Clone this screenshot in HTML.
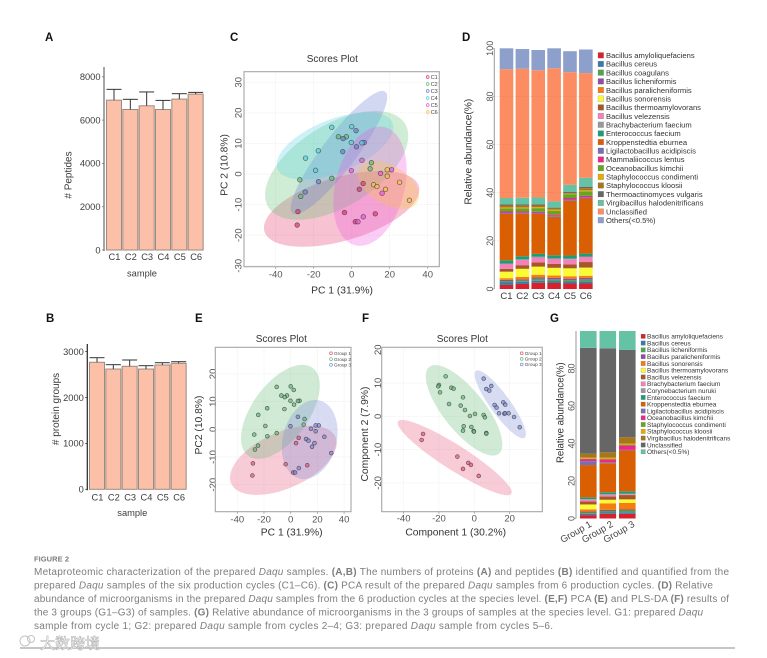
<!DOCTYPE html>
<html lang="en">
<head>
<meta charset="utf-8">
<title>Figure 2 Metaproteomic characterization</title>
<style>
html,body{margin:0;padding:0;background:#fff;}
#figure{display:block;width:767px;height:658px;font-family:"Liberation Sans","Noto Sans CJK SC",sans-serif;}
</style>
</head>
<body>
<svg id="figure" xmlns="http://www.w3.org/2000/svg" width="767" height="658" viewBox="0 0 767 658">
  <rect width="767" height="658" fill="#ffffff"/>
  <g id="panel-a"></g>
  <g id="panel-b"></g>
  <g id="panel-c"></g>
  <g id="panel-d"></g>
  <g id="panel-e"></g>
  <g id="panel-f"></g>
  <g id="panel-g"></g>

  <g font-size="11.5" font-weight="bold" fill="#111">
    <text x="45" y="41">A</text>
    <text x="46" y="322">B</text>
    <text x="230" y="41">C</text>
    <text x="462" y="41">D</text>
    <text x="195" y="322">E</text>
    <text x="362" y="322">F</text>
    <text x="550" y="322">G</text>
  </g>

  <g fill="#7d7d7d" font-size="10">
    <text x="34" y="561.5" font-size="7.5" font-weight="bold" textLength="35">FIGURE 2</text>
    <text x="34" y="575" textLength="695" lengthAdjust="spacing">Metaproteomic characterization of the prepared <tspan font-style="italic">Daqu</tspan> samples. <tspan font-weight="bold">(A,B)</tspan> The numbers of proteins <tspan font-weight="bold">(A)</tspan> and peptides <tspan font-weight="bold">(B)</tspan> identified and quantified from the</text>
    <text x="34" y="588.5" textLength="679" lengthAdjust="spacing">prepared <tspan font-style="italic">Daqu</tspan> samples of the six production cycles (C1–C6). <tspan font-weight="bold">(C)</tspan> PCA result of the prepared <tspan font-style="italic">Daqu</tspan> samples from 6 production cycles. <tspan font-weight="bold">(D)</tspan> Relative</text>
    <text x="34" y="602" textLength="695" lengthAdjust="spacing">abundance of microorganisms in the prepared <tspan font-style="italic">Daqu</tspan> samples from the 6 production cycles at the species level. <tspan font-weight="bold">(E,F)</tspan> PCA <tspan font-weight="bold">(E)</tspan> and PLS-DA <tspan font-weight="bold">(F)</tspan> results of</text>
    <text x="34" y="615.5" textLength="669" lengthAdjust="spacing">the 3 groups (G1–G3) of samples. <tspan font-weight="bold">(G)</tspan> Relative abundance of microorganisms in the 3 groups of samples at the species level. G1: prepared <tspan font-style="italic">Daqu</tspan></text>
    <text x="34" y="629" textLength="519" lengthAdjust="spacing">sample from cycle 1; G2: prepared <tspan font-style="italic">Daqu</tspan> sample from cycles 2–4; G3: prepared <tspan font-style="italic">Daqu</tspan> sample from cycles 5–6.</text>
  </g>

  <line x1="20" y1="648" x2="735" y2="648" stroke="#b4b4b4" stroke-width="1.4"/>
  <g>
    <circle cx="25" cy="641" r="5" fill="none" stroke="#c4c4c4" stroke-width="1"/>
    <circle cx="31" cy="639" r="3.5" fill="none" stroke="#c4c4c4" stroke-width="1"/>
    <text x="40" y="648.5" font-size="15" fill="#ffffff" stroke="#ababab" stroke-width="0.5" font-family="'Liberation Sans','Noto Sans CJK SC',sans-serif">大数跨境</text>
  </g>
</svg>

<script>
// ---------- Bar chart data (A, B) ----------
const cycleLabels = ['C1', 'C2', 'C3', 'C4', 'C5', 'C6'];
const peptideMeans = [6920, 6490, 6660, 6490, 6970, 7200];
const peptideErrorTops = [7420, 6960, 7300, 6910, 7220, 7280];
const peptideTicks = [0, 2000, 4000, 6000, 8000];
const proteinMeans = [2767, 2620, 2680, 2620, 2708, 2745];
const proteinErrorTops = [2867, 2715, 2817, 2693, 2758, 2780];
const proteinTicks = [0, 1000, 2000, 3000];

// ---------- Score data, PCA (C, E) ----------
const pcaC1 = [[-28.3,-12.3],[-28.7,-16.7],[-3.8,-12.6],[1.9,-15.6],[12.4,-13],[6,-3.1],[4,-5]];
const pcaC2 = [[-27.3,-1.9],[-26.8,-7.3],[-10.5,-1.4],[9.7,1.7],[10.4,3.7],[-7,12.2],[-2.8,12.2]];
const pcaC3 = [[-24.5,-5.9],[-17.5,-2.5],[-4.7,7.3],[2.5,8.9],[-4.5,11.6],[2.3,14.2],[6.6,10.3]];
const pcaC4 = [[-10.5,15.3],[0,15.5],[-17.6,7.6],[-24.3,5.2],[-19,1.2],[-0.2,10.3],[5.4,10.2]];
const pcaC5 = [[3.3,-15.6],[6.1,-14],[16,-6.3],[21,1.4],[15.2,0.2],[5.4,4.5],[-0.2,1.1]];
const pcaC6 = [[11.5,-3.5],[13.3,-4.1],[17.8,-5],[18.7,-0.7],[18.7,1.4],[25.2,-2.7],[30.4,-8.6]];

// Ellipses in data units: centre, half-extent, correlation
const cEllipseCx = [-5.3, -7.9, -6.7, -8.8, 9.6, 19.3];
const cEllipseCy = [-11.4, 2.8, 7, 9.2, -4, -3.6];
const cEllipseXr = [40.9, 37.7, 25.4, 30.7, 19.3, 16.1];
const cEllipseYr = [12.4, 17.8, 20.2, 11, 19.5, 7.9];
const cEllipseCorr = [0.5, 0.54, 0.9, 0.55, 0.27, -0.45];
const cXTicks = [-40, -20, 0, 20, 40];
const cYTicks = [-30, -20, -10, 0, 10, 20, 30];

const groupLabels = ['Group 1', 'Group 2', 'Group 3'];
const eEllipseCx = [-5.5, -7.7, 14.2];
const eEllipseCy = [-11.2, 6.3, -3.7];
const eEllipseXr = [40, 29.5, 20.9];
const eEllipseYr = [12.5, 17, 14.3];
const eEllipseCorr = [0.5, 0.56, 0.2];
const eXTicks = [-40, -20, 0, 20, 40];
const eYTicks = [-20, -10, 0, 10, 20];

// ---------- Score data, PLS-DA (F) ----------
const plsG1 = [[-29,-5.3],[-29.8,-7.1],[-9.6,-12.1],[-3.4,-14],[-1.9,-14.6],[-6.4,-15.8],[2.5,-17.9]];
const plsG2 = [[-16.2,12],[-20,9.4],[-20.4,9],[-19.4,7.2],[-13,8.6],[-11.7,8.3],[-6.4,5.7],[-14.3,3.7],[-7.7,3.2],[-5.3,1.9],[-2.5,0.1],[0.4,0.7],[5.3,0.4],[6,-0.3],[-6,-3],[-6.4,-4.3],[-1.7,-3.2],[-0.4,-4.4],[-0.2,-4.6],[6.8,-5],[6.8,-5.2]];
const plsG3 = [[5.3,11.3],[6.8,8.2],[8.5,7.7],[9.6,9.1],[11.5,3.4],[12.6,2.6],[14,0.9],[16.4,4.2],[17.5,3.5],[17,0.8],[17.4,0.9],[19.4,0.9],[22.5,-0.2],[25.7,-3.3]];
const fEllipseCx = [-11.1, -5.8, 14.7];
const fEllipseCy = [-12.4, 1.8, 3.6];
const fEllipseXr = [32.3, 21.7, 14.5];
const fEllipseYr = [11.3, 13.6, 10.2];
const fEllipseCorr = [-0.92, -0.75, -0.88];
const fXTicks = [-40, -20, 0, 20];
const fYTicks = [-20, -10, 0, 10, 20];

// ---------- Abundance data (D) ----------
const speciesD = ['Bacillus amyloliquefaciens','Bacillus cereus','Bacillus coagulans','Bacillus licheniformis','Bacillus paralicheniformis','Bacillus sonorensis','Bacillus thermoamylovorans','Bacillus velezensis','Brachybacterium faecium','Enterococcus faecium','Kroppenstedtia eburnea','Ligilactobacillus acidipiscis','Mammaliicoccus lentus','Oceanobacillus kimchii','Staphylococcus condimenti','Staphylococcus kloosii','Thermoactinomyces vulgaris','Virgibacillus halodenitrificans','Unclassified','Others(<0.5%)'];
const abundanceC1 = [1.7,1,0.6,0.5,0.7,2.7,1.2,2,0.2,1.3,19.3,0.4,0.6,1.3,0.4,0.8,0.5,2.6,53.5,8.7];
const abundanceC2 = [2.1,0.9,0.5,0.5,1,3.4,1.5,2.2,0.2,1.3,17.7,0.4,0.5,1.3,0.4,0.7,0.5,2.8,53.6,8.2];
const abundanceC3 = [2.6,0.8,0.8,0.6,1.1,3.4,1.7,2.1,0.3,1.2,16.6,0.4,0.5,1.5,0.4,0.7,0.5,2.8,52.9,8.4];
const abundanceC4 = [2.5,0.8,0.7,0.6,1,3.2,1.6,2.1,0.2,1.3,16,0.4,0.5,1.5,0.6,0.4,0.4,2.6,55.3,8.3];
const abundanceC5 = [2.3,0.8,0.6,0.6,1,3.3,1.6,2.2,0.2,1.3,22.8,0.5,0.6,1.6,0.2,0.3,0.4,3,46.8,8.7];
const abundanceC6 = [2.3,0.9,0.8,0.6,0.9,3.4,2.3,2.1,0.2,1.2,22.9,0.5,0.6,1.9,0.4,0.9,0.6,3.7,43.5,9.8];
const abundanceTicksD = [0, 20, 40, 60, 80, 100];

// ---------- Abundance data (G) ----------
const speciesG = ['Bacillus amyloliquefaciens','Bacillus cereus','Bacillus licheniformis','Bacillus paralicheniformis','Bacillus sonorensis','Bacillus thermoamylovorans','Bacillus velezensis','Brachybacterium faecium','Corynebacterium nuruki','Enterococcus faecium','Kroppenstedtia eburnea','Ligilactobacillus acidipiscis','Oceanobacillus kimchii','Staphylococcus condimenti','Staphylococcus kloosii','Virgibacillus halodenitrificans','Unclassified','Others(<0.5%)'];
const abundanceG1 = [1.8,0.7,0.7,0.5,1.2,2.6,1.6,1,0.3,0.9,17.2,2.1,1.1,0.2,0.6,2,56.5,9];
const abundanceG2 = [2.5,0.7,0.8,0.6,3.5,1.9,1.7,0.9,0.3,1.1,15.5,0.5,1.5,0.2,0.7,2.9,55.5,9.2];
const abundanceG3 = [2.5,0.8,1,0.5,3.5,1.9,2.3,0.4,0.4,1.2,21.8,0.3,2.4,0.4,0.6,3.4,46.5,10.1];
const abundanceTicksG = [0, 20, 40, 60, 80];

// ---------- Palettes ----------
const speciesPaletteD = ['#d7222b','#3a78b0','#4ca64a','#944ca0','#f57d0f','#fbfb35','#a65628','#f581bb','#999999','#1b9e77','#d95f02','#7570b3','#e7298a','#66a61e','#e6ab02','#a6761d','#666666','#66c2a5','#fc8d62','#8da0cb'];
const speciesPaletteG = ['#d7222b','#3a78b0','#4ca64a','#944ca0','#f57d0f','#fbfb35','#a65628','#f581bb','#999999','#1b9e77','#d95f02','#7570b3','#e7298a','#66a61e','#e6ab02','#a6761d','#666666','#66c2a5'];
const cycleColors = ['#e3346a','#5fbf6f','#6b7fd0','#58cfe6','#ee55e0','#f7c23e'];
const groupColors = ['#e8557a','#66bb77','#7c8bd8'];

// ---------- Helpers ----------
const NS = 'http://www.w3.org/2000/svg';
function mk(tag, attrs, parent) {
  const n = document.createElementNS(NS, tag);
  for (const k in attrs) n.setAttribute(k, attrs[k]);
  parent.appendChild(n);
  return n;
}
function label(s, x, y, size, parent, opts) {
  const o = opts || {};
  const n = mk('text', {x: x, y: y, 'font-size': size, fill: o.fill || '#3c3c3c', 'text-anchor': o.anchor || 'middle', dy: '0.36em'}, parent);
  if (o.rotate) n.setAttribute('transform', 'rotate(' + o.rotate + ' ' + x + ' ' + y + ')');
  n.textContent = s;
  return n;
}
function linear(origin, slope) { return v => origin + v * slope; }

function drawBars(parent, cfg, cats, means, tops, ticks) {
  const sy = linear(cfg.y0, -cfg.ky);
  const cx = i => cfg.x0 + cfg.step * i;
  const axis = mk('line', {x1: cfg.axisX, x2: cfg.axisX, y1: cfg.axisTop, y2: cfg.y0 + 1, stroke: cfg.axisColor, 'stroke-width': 1.3}, parent);
  
  
  ticks.forEach(t => {
    const m = mk('line', {x1: cfg.axisX - 2, x2: cfg.axisX, y1: sy(t), y2: sy(t), stroke: cfg.axisColor, 'stroke-width': 0.8}, parent);
    
    
    const l = label(String(t), cfg.axisX - 3.5, sy(t), 9.3, parent, {anchor: 'end'});
    
    
  });
  cats.forEach((c, i) => {
    const bar = mk('rect', {x: cx(i) - cfg.w / 2, y: sy(means[i]), width: cfg.w, height: sy(0) - sy(means[i]), fill: '#fcc0a8', stroke: '#9b8a80', 'stroke-width': 1}, parent);
    
    
    const stem = mk('line', {x1: cx(i), x2: cx(i), y1: sy(means[i]), y2: sy(tops[i]), stroke: '#333', 'stroke-width': 1}, parent);
    
    
    const cap = mk('line', {x1: cx(i) - cfg.w / 2, x2: cx(i) + cfg.w / 2, y1: sy(tops[i]), y2: sy(tops[i]), stroke: '#333', 'stroke-width': 1}, parent);
    
    
    const l = label(c, cx(i) + 0.5, cfg.catY, 9.3, parent);
    
    
  });
  const xt = label('sample', cfg.xTitleX, cfg.xTitleY, 9.3, parent);
  
  
  const yt = label(cfg.yTitle, cfg.yTitleX, cfg.yTitleY, 10, parent, {rotate: -90});
  
  
}

function ellipsePath(sx, sy, cx, cy, xr, yr, r) {
  let d = '';
  const q = Math.sqrt(1 - r * r);
  for (let k = 0; k < 72; k++) {
    const t = k / 72 * 2 * Math.PI;
    const px = sx(cx + xr * Math.cos(t));
    const py = sy(cy + yr * (r * Math.cos(t) + q * Math.sin(t)));
    d += (k ? 'L' : 'M') + px.toFixed(1) + ' ' + py.toFixed(1);
  }
  return d + 'Z';
}

function drawScores(parent, cfg, series, names, colors, ell, xTicks, yTicks) {
  const sx = linear(cfg.x0, cfg.kx);
  const sy = linear(cfg.y0, -cfg.ky);
  const f = cfg.frame;
  xTicks.forEach(t => {
    const g = mk('line', {x1: sx(t), x2: sx(t), y1: f.top, y2: f.bottom, stroke: '#e9e9e9', 'stroke-width': 0.7, 'stroke-dasharray': '1 1'}, parent);
    
    
    const m = mk('line', {x1: sx(t), x2: sx(t), y1: f.bottom, y2: f.bottom + 2, stroke: '#888', 'stroke-width': 0.7}, parent);
    
    
    const l = label(String(t), sx(t), cfg.xLabelY, 9.5, parent, {fill: '#555'});
    
    
  });
  yTicks.forEach(t => {
    const g = mk('line', {x1: f.left, x2: f.right, y1: sy(t), y2: sy(t), stroke: '#e9e9e9', 'stroke-width': 0.7, 'stroke-dasharray': '1 1'}, parent);
    
    
    const l = label(String(t), cfg.yLabelX, sy(t), 9.5, parent, {fill: '#555', rotate: -90});
    
    
  });
  series.forEach((_, i) => {
    const e = mk('path', {d: ellipsePath(sx, sy, ell.cx[i], ell.cy[i], ell.xr[i], ell.yr[i], ell.corr[i]), fill: colors[i], 'fill-opacity': cfg.ellipseOpacity}, parent);
    
    
  });
  series.forEach((pts, i) => {
    pts.forEach(p => {
      const c = mk('circle', {cx: sx(p[0]), cy: sy(p[1]), r: cfg.r, fill: colors[i], 'fill-opacity': 0.7, stroke: '#3a3a3a', 'stroke-opacity': 0.75, 'stroke-width': 0.7}, parent);
      
      
    });
  });
  const frame = mk('rect', {x: f.left, y: f.top, width: f.right - f.left, height: f.bottom - f.top, fill: 'none', stroke: '#a6a6a6', 'stroke-width': 1.1}, parent);
  
  
  const title = label('Scores Plot', cfg.titleX, cfg.titleY, 10, parent, {fill: '#333'});
  
  
  const xt = label(cfg.xTitle, cfg.xTitleX, cfg.xTitleY, 10.3, parent, {fill: '#333'});
  
  
  const yt = label(cfg.yTitle, cfg.yTitleX, cfg.yTitleY, 10.3, parent, {fill: '#333', rotate: -90});
  
  
  names.forEach((n, i) => {
    const y = cfg.legY + cfg.legStep * i;
    const m = mk('circle', {cx: cfg.legX, cy: y, r: 1.4, fill: 'none', stroke: colors[i], 'stroke-width': 0.7}, parent);
    
    
    const l = label(n, cfg.legX + 3, y, cfg.legFont, parent, {anchor: 'start', fill: '#444'});
    
    
  });
}

function drawStack(parent, cfg, cats, rows, species, colors, ticks) {
  const sy = linear(cfg.y0, -cfg.ky);
  const cx = i => cfg.x0 + cfg.step * i;
  rows.forEach((row, i) => {
    let cum = 0;
    row.forEach((v, s) => {
      const seg = mk('rect', {x: cx(i) - cfg.w / 2, y: sy(cum + v), width: cfg.w, height: sy(cum) - sy(cum + v), fill: colors[s]}, parent);
      
      
      cum += v;
    });
  });
  const axis = mk('line', {x1: cfg.axisX, x2: cfg.axisX, y1: sy(100), y2: sy(0), stroke: '#9a9a9a', 'stroke-width': 1}, parent);
  
  
  ticks.forEach(t => {
    const m = mk('line', {x1: cfg.axisX - 2, x2: cfg.axisX, y1: sy(t), y2: sy(t), stroke: '#9a9a9a', 'stroke-width': 0.7}, parent);
    
    
    const l = label(String(t), cfg.yLabelX, sy(t), 9, parent, {rotate: -90, fill: '#555'});
    
    
  });
  if (cfg.guides) {
    ticks.slice(1, -1).forEach(t => {
      const g = mk('line', {x1: cfg.axisX, x2: cx(cats.length - 1) + cfg.w / 2, y1: sy(t), y2: sy(t), stroke: '#c9693f', 'stroke-width': 0.5, 'stroke-dasharray': '1 2', 'stroke-opacity': 0.6}, parent);
      
      
    });
  }
  cats.forEach((c, i) => {
    const ax = cx(i) + 4 + i * 2;
    const l = cfg.catRotate
      ? mk('text', {x: ax, y: cfg.catY, 'font-size': cfg.catFont, fill: '#444', 'text-anchor': 'end', transform: 'rotate(' + cfg.catRotate + ' ' + ax + ' ' + cfg.catY + ')'}, parent)
      : label(c, cx(i), cfg.catY, cfg.catFont, parent);
    l.textContent = c;
    
    
  });
  const yt = label('Relative abundance(%)', cfg.yTitleX, cfg.yTitleY, cfg.yTitleFont, parent, {rotate: -90, fill: '#333'});
  
  
  species.forEach((s, i) => {
    const y = cfg.legY + cfg.legStep * i;
    const sw = mk('rect', {x: cfg.legX, y: y - cfg.swatch / 2, width: cfg.swatch, height: cfg.swatch, fill: colors[i], stroke: '#777', 'stroke-width': 0.25}, parent);
    
    
    const l = label(s, cfg.legTextX, y, cfg.legFont, parent, {anchor: 'start', fill: '#333'});
    
    
  });
}

// ---------- Render ----------
drawBars(document.getElementById('panel-a'),
  {x0: 114, step: 16.33, w: 15, y0: 250, ky: 43.3 / 2000, axisX: 104, axisTop: 67, axisColor: '#777', catY: 256.5, xTitleX: 142, xTitleY: 273.3, yTitle: '# Peptides', yTitleX: 68, yTitleY: 175},
  cycleLabels, peptideMeans, peptideErrorTops, peptideTicks);

drawBars(document.getElementById('panel-b'),
  {x0: 97, step: 16.33, w: 15, y0: 489.3, ky: 45.9 / 1000, axisX: 87.3, axisTop: 344, axisColor: '#333', catY: 497.3, xTitleX: 132.3, xTitleY: 512.7, yTitle: '# protein groups', yTitleX: 55.3, yTitleY: 409},
  cycleLabels, proteinMeans, proteinErrorTops, proteinTicks);

drawScores(document.getElementById('panel-c'),
  {x0: 351.7, kx: 1.9, y0: 174, ky: 3.057, frame: {left: 244, right: 439.3, top: 71.7, bottom: 266.7}, xLabelY: 274.3, yLabelX: 238, r: 2.3, ellipseOpacity: 0.3,
   titleX: 332.3, titleY: 58.3, xTitle: 'PC 1 (31.9%)', xTitleX: 342, xTitleY: 290, yTitle: 'PC 2 (10.8%)', yTitleX: 224, yTitleY: 165, legX: 427.7, legY: 77, legStep: 7, legFont: 5.5},
  [pcaC1, pcaC2, pcaC3, pcaC4, pcaC5, pcaC6], cycleLabels, cycleColors,
  {cx: cEllipseCx, cy: cEllipseCy, xr: cEllipseXr, yr: cEllipseYr, corr: cEllipseCorr}, cXTicks, cYTicks);

drawStack(document.getElementById('panel-d'),
  {x0: 506.5, step: 15.87, w: 13.6, y0: 289, ky: 2.407, axisX: 494.3, yLabelX: 490, guides: true, catY: 295.7, catFont: 9.5, yTitleX: 467.7, yTitleY: 151.7, yTitleFont: 10.2,
   legX: 598, legTextX: 606, legY: 55.3, legStep: 8.68, swatch: 5.6, legFont: 7.6},
  cycleLabels, [abundanceC1, abundanceC2, abundanceC3, abundanceC4, abundanceC5, abundanceC6], speciesD, speciesPaletteD, abundanceTicksD);

drawScores(document.getElementById('panel-e'),
  {x0: 290.7, kx: 1.335, y0: 429.3, ky: 2.77, frame: {left: 215.3, right: 351, top: 347.3, bottom: 511.7}, xLabelY: 519.3, yLabelX: 212.5, r: 1.9, ellipseOpacity: 0.3,
   titleX: 281.3, titleY: 338.3, xTitle: 'PC 1 (31.9%)', xTitleX: 291.7, xTitleY: 531.7, yTitle: 'PC2 (10.8%)', yTitleX: 198.3, yTitleY: 425, legX: 331, legY: 353.3, legStep: 5.8, legFont: 4.7},
  [pcaC1, pcaC2.concat(pcaC3, pcaC4), pcaC5.concat(pcaC6)], groupLabels, groupColors,
  {cx: eEllipseCx, cy: eEllipseCy, xr: eEllipseXr, yr: eEllipseYr, corr: eEllipseCorr}, eXTicks, eYTicks);

drawScores(document.getElementById('panel-f'),
  {x0: 474.3, kx: 1.767, y0: 416.3, ky: 3.33, frame: {left: 381.7, right: 542.3, top: 347.3, bottom: 511.7}, xLabelY: 518.3, yLabelX: 377.7, r: 1.9, ellipseOpacity: 0.3,
   titleX: 462.3, titleY: 338.3, xTitle: 'Component 1 (30.2%)', xTitleX: 455.7, xTitleY: 532, yTitle: 'Component 2 (7.9%)', yTitleX: 364.3, yTitleY: 434, legX: 521.7, legY: 353.3, legStep: 5.6, legFont: 4.7},
  [plsG1, plsG2, plsG3], groupLabels, groupColors,
  {cx: fEllipseCx, cy: fEllipseCy, xr: fEllipseXr, yr: fEllipseYr, corr: fEllipseCorr}, fXTicks, fYTicks);

drawStack(document.getElementById('panel-g'),
  {x0: 588.3, step: 19.5, w: 16.6, y0: 518.5, ky: 1.875, axisX: 576, yLabelX: 571.5, guides: false, catY: 526, catFont: 9.5, catRotate: -30, yTitleX: 560, yTitleY: 412.7, yTitleFont: 9.7,
   legX: 641, legTextX: 647, legY: 336.3, legStep: 6.79, swatch: 4.4, legFont: 6.5},
  groupLabels, [abundanceG1, abundanceG2, abundanceG3], speciesG, speciesPaletteG, abundanceTicksG);
</script>
</body>
</html>
